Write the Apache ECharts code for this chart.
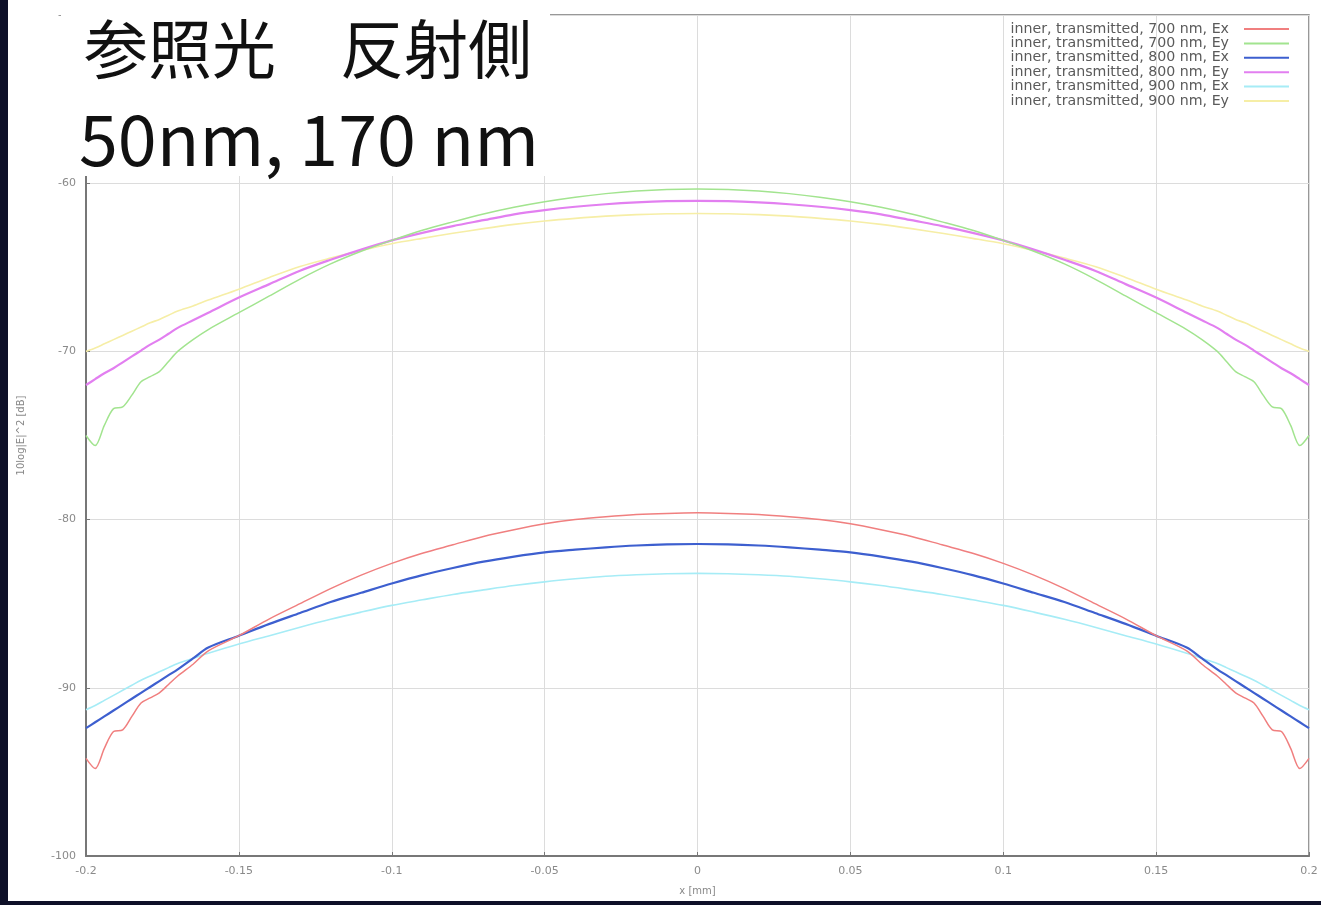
<!DOCTYPE html>
<html>
<head>
<meta charset="utf-8">
<script src="https://cdn.jsdelivr.net/npm/echarts@6/dist/echarts.min.js"></script>
<style>
  html, body { margin: 0; padding: 0; width: 1321px; height: 905px; overflow: hidden; background: #0e1028; }
  #chart { position: absolute; left: 8px; top: 0; width: 1313px; height: 901px; background: #ffffff; }
</style>
</head>
<body>
<div id="chart"></div>
<script>
// ---- data ----
const xValues = [-0.2, -0.197, -0.194, -0.191, -0.188, -0.185, -0.182, -0.179, -0.176, -0.173, -0.17, -0.165, -0.16, -0.15, -0.14, -0.13, -0.12, -0.11, -0.1, -0.09, -0.08, -0.07, -0.06, -0.05, -0.04, -0.03, -0.02, -0.01, 0,
  0.01, 0.02, 0.03, 0.04, 0.05, 0.06, 0.07, 0.08, 0.09, 0.1, 0.11, 0.12, 0.13, 0.14, 0.15, 0.16, 0.165, 0.17, 0.173, 0.176, 0.179, 0.182, 0.185, 0.188, 0.191, 0.194, 0.197, 0.2];

const ex700 = [-94.2, -94.8, -93.6, -92.6, -92.5, -91.7, -90.9, -90.6, -90.3, -89.8, -89.3, -88.6, -87.8, -86.9, -85.9, -85.0, -84.1, -83.3, -82.6, -82.0, -81.5, -81.0, -80.6, -80.25, -80.0, -79.83, -79.7, -79.63, -79.6,
  -79.63, -79.7, -79.83, -80.0, -80.25, -80.6, -81.0, -81.5, -82.0, -82.6, -83.3, -84.1, -85.0, -85.9, -86.9, -87.8, -88.6, -89.3, -89.8, -90.3, -90.6, -90.9, -91.7, -92.5, -92.6, -93.6, -94.8, -94.2];

const ey700 = [-75.0, -75.6, -74.4, -73.4, -73.3, -72.6, -71.8, -71.5, -71.2, -70.6, -70.0, -69.3, -68.7, -67.7, -66.7, -65.7, -64.8, -64.05, -63.4, -62.8, -62.3, -61.83, -61.43, -61.1, -60.83, -60.62, -60.47, -60.38, -60.35,
  -60.38, -60.47, -60.62, -60.83, -61.1, -61.43, -61.83, -62.3, -62.8, -63.4, -64.05, -64.8, -65.7, -66.7, -67.7, -68.7, -69.3, -70.0, -70.6, -71.2, -71.5, -71.8, -72.6, -73.3, -73.4, -74.4, -75.6, -75.0];

const ex800 = [-92.4, -92.05, -91.7, -91.35, -91.0, -90.65, -90.3, -89.95, -89.6, -89.25, -88.9, -88.25, -87.6, -86.9, -86.2, -85.55, -84.9, -84.35, -83.8, -83.3, -82.88, -82.5, -82.2, -81.95, -81.79, -81.65, -81.54, -81.47, -81.45,
  -81.47, -81.54, -81.65, -81.79, -81.95, -82.2, -82.5, -82.88, -83.3, -83.8, -84.35, -84.9, -85.55, -86.2, -86.9, -87.6, -88.25, -88.9, -89.25, -89.6, -89.95, -90.3, -90.65, -91.0, -91.35, -91.7, -92.05, -92.4];

const ey800 = [-72.0, -71.65, -71.3, -71.0, -70.65, -70.3, -69.95, -69.6, -69.3, -68.95, -68.6, -68.15, -67.7, -66.8, -66.0, -65.2, -64.55, -63.95, -63.4, -62.95, -62.55, -62.2, -61.85, -61.6, -61.4, -61.25, -61.14, -61.07, -61.05,
  -61.07, -61.14, -61.25, -61.4, -61.6, -61.85, -62.2, -62.55, -62.95, -63.4, -63.95, -64.55, -65.2, -66.0, -66.8, -67.7, -68.15, -68.6, -68.95, -69.3, -69.6, -69.95, -70.3, -70.65, -71.0, -71.3, -71.65, -72.0];

const ex900 = [-91.3, -91.05, -90.75, -90.45, -90.15, -89.85, -89.55, -89.3, -89.05, -88.8, -88.55, -88.25, -87.95, -87.4, -86.9, -86.4, -85.93, -85.5, -85.1, -84.77, -84.45, -84.18, -83.92, -83.7, -83.52, -83.37, -83.28, -83.22, -83.2,
  -83.22, -83.28, -83.37, -83.52, -83.7, -83.92, -84.18, -84.45, -84.77, -85.1, -85.5, -85.93, -86.4, -86.9, -87.4, -87.95, -88.25, -88.55, -88.8, -89.05, -89.3, -89.55, -89.85, -90.15, -90.45, -90.75, -91.05, -91.3];

const ey900 = [-70.0, -69.8, -69.55, -69.3, -69.05, -68.8, -68.55, -68.3, -68.1, -67.85, -67.6, -67.3, -66.95, -66.3, -65.6, -64.95, -64.45, -64.0, -63.6, -63.28, -62.98, -62.7, -62.45, -62.25, -62.09, -61.96, -61.87, -61.82, -61.8,
  -61.82, -61.87, -61.96, -62.09, -62.25, -62.45, -62.7, -62.98, -63.28, -63.6, -64.0, -64.45, -64.95, -65.6, -66.3, -66.95, -67.3, -67.6, -67.85, -68.1, -68.3, -68.55, -68.8, -69.05, -69.3, -69.55, -69.8, -70.0];

const seriesNames = [
  'inner, transmitted, 700 nm, Ex',
  'inner, transmitted, 700 nm, Ey',
  'inner, transmitted, 800 nm, Ex',
  'inner, transmitted, 800 nm, Ey',
  'inner, transmitted, 900 nm, Ex',
  'inner, transmitted, 900 nm, Ey'
];
const seriesValues = [ex700, ey700, ex800, ey800, ex900, ey900];
const titleLines = ['参照光　反射側', '50nm, 170 nm'];
const xAxisName = 'x [mm]';
const yAxisName = '10log|E|^2 [dB]';

// ---- styles ----
const colors = ['#f07f7f', '#a2e48f', '#3d5fcf', '#e27ff0', '#a6ecf6', '#f6eea6'];
const widths = [1.5, 1.5, 2.2, 2.2, 1.6, 1.6];

const chart = echarts.init(document.getElementById('chart'), null, { renderer: 'canvas' });

const series = seriesNames.map((name, i) => ({
  name: name,
  type: 'line',
  data: xValues.map((x, j) => [x, seriesValues[i][j]]),
  showSymbol: false,
  smooth: 0.3,
  lineStyle: { color: colors[i], width: widths[i] },
  itemStyle: { color: colors[i] },
  z: 2 + (6 - i) * 0.1
}));

chart.setOption({
  animation: false,
  backgroundColor: '#ffffff',
  grid: {
    left: 77, right: 12, top: 15, bottom: 38,
    show: true, borderColor: '#777777', borderWidth: 1.5, backgroundColor: 'transparent'
  },
  legend: {
    orient: 'vertical',
    right: 27,
    top: 17,
    align: 'right',
    icon: 'rect',
    itemWidth: 45,
    itemHeight: 2,
    itemGap: 0.4,
    textStyle: { fontFamily: 'DejaVu Sans', fontSize: 14.2, color: '#5a5a5a', lineHeight: 12.2, padding: [0, 10, 0, 0] },
    data: seriesNames
  },
  xAxis: {
    type: 'value',
    min: -0.2, max: 0.2, interval: 0.05,
    name: xAxisName,
    nameLocation: 'middle',
    nameGap: 30,
    nameTextStyle: { fontFamily: 'DejaVu Sans', fontSize: 10, color: '#888888' },
    axisLine: { show: true, onZero: false, lineStyle: { color: '#777777', width: 2 } },
    axisTick: { show: true, inside: true, length: 4, lineStyle: { color: '#777777' } },
    axisLabel: {
      margin: 10, fontFamily: 'DejaVu Sans', fontSize: 11, color: '#8a8a8a',
      formatter: v => String(+v.toFixed(2))
    },
    splitLine: { show: true, lineStyle: { color: '#dcdcdc', width: 1 } }
  },
  yAxis: {
    type: 'value',
    min: -100, max: -50, interval: 10,
    name: yAxisName,
    nameLocation: 'middle',
    nameRotate: 90,
    nameGap: 60,
    nameTextStyle: { fontFamily: 'DejaVu Sans', fontSize: 10, color: '#888888' },
    axisLine: { show: true, onZero: false, lineStyle: { color: '#777777', width: 2 } },
    axisTick: { show: true, inside: true, length: 4, lineStyle: { color: '#777777' } },
    axisLabel: { margin: 10, fontFamily: 'DejaVu Sans', fontSize: 11, color: '#8a8a8a' },
    splitLine: { show: true, lineStyle: { color: '#dcdcdc', width: 1 } }
  },
  graphic: [
    {
      type: 'rect', z: 100, left: 53, top: 0,
      shape: { width: 489, height: 176 },
      style: { fill: '#ffffff' }
    },
    {
      type: 'text', z: 101, left: 76, top: 17,
      style: { text: titleLines[0], font: '64px "Noto Sans CJK JP"', fill: '#111111' }
    },
    {
      type: 'text', z: 101, left: 71, top: 104,
      style: { text: titleLines[1], font: '70px "Noto Sans CJK JP"', fill: '#111111' }
    }
  ],
  series: series
});
</script>
</body>
</html>
